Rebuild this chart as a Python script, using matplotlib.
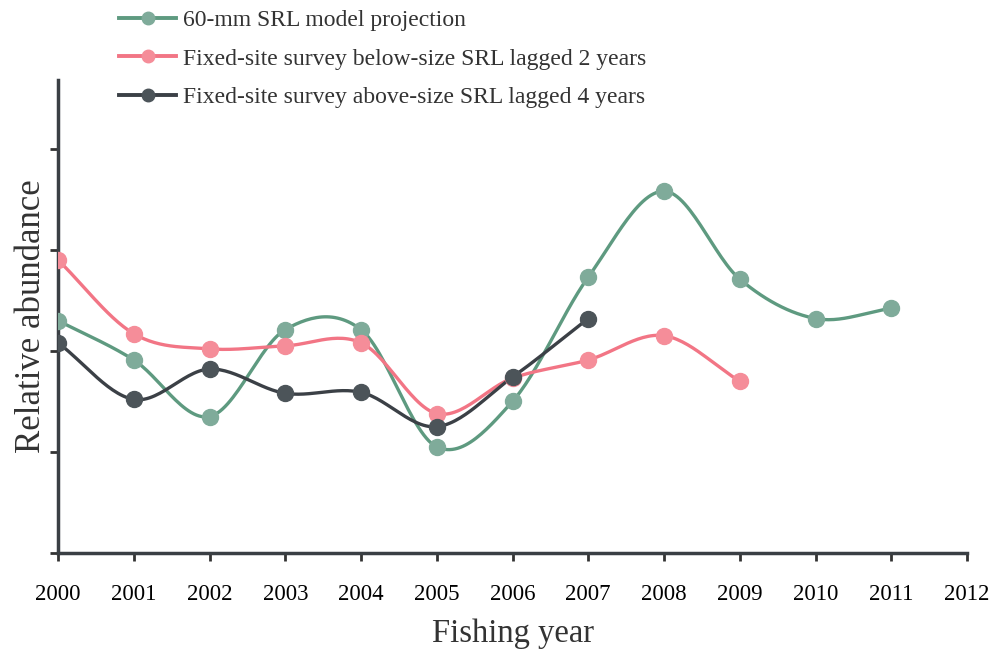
import matplotlib.pyplot as plt
import numpy as np
from matplotlib.lines import Line2D

years_model = [2000, 2001, 2002, 2003, 2004, 2005, 2006, 2007, 2008, 2009, 2010, 2011]
model_60mm = [2.30, 1.91, 1.35, 2.21, 2.21, 1.05, 1.50, 2.73, 3.58, 2.71, 2.32, 2.42]

years_below = [2000, 2001, 2002, 2003, 2004, 2005, 2006, 2007, 2008, 2009]
below_size = [2.90, 2.17, 2.02, 2.05, 2.08, 1.38, 1.73, 1.91, 2.15, 1.70]

years_above = [2000, 2001, 2002, 2003, 2004, 2005, 2006, 2007]
above_size = [2.08, 1.52, 1.82, 1.58, 1.59, 1.25, 1.74, 2.32]

labels = ["60-mm SRL model projection",
          "Fixed-site survey below-size SRL lagged 2 years",
          "Fixed-site survey above-size SRL lagged 4 years"]
xticks = list(range(2000, 2013))


def smooth(x, y, n=30):
    # Catmull-Rom spline, close to the spreadsheet "smoothed line" look
    x = np.asarray(x, float)
    y = np.asarray(y, float)
    px = np.concatenate([[2 * x[0] - x[1]], x, [2 * x[-1] - x[-2]]])
    py = np.concatenate([[2 * y[0] - y[1]], y, [2 * y[-1] - y[-2]]])
    xs, ys = [], []
    t = np.linspace(0, 1, n)
    for i in range(1, len(px) - 2):
        for p, out in ((px, xs), (py, ys)):
            p0, p1, p2, p3 = p[i - 1], p[i], p[i + 1], p[i + 2]
            seg = 0.5 * ((2 * p1) + (-p0 + p2) * t
                         + (2 * p0 - 5 * p1 + 4 * p2 - p3) * t ** 2
                         + (-p0 + 3 * p1 - 3 * p2 + p3) * t ** 3)
            out.extend(seg)
    return np.array(xs), np.array(ys)


plt.rcParams['font.family'] = ['Liberation Serif', 'DejaVu Serif']

fig = plt.figure(figsize=(9.92, 6.52), dpi=100)
ax = fig.add_axes([58 / 992, 99 / 652, (967 - 58) / 992, (553 - 80) / 652])

series = [
    (years_model, model_60mm, "#5e9a80", "#7fab9a"),
    (years_below, below_size, "#f27585", "#f58d99"),
    (years_above, above_size, "#3b4046", "#4c5459"),
]
handles = []
for (xv, yv, lc, mc), lab in zip(series, labels):
    sx, sy = smooth(xv, yv)
    ax.plot(sx, sy, color=lc, lw=2.4, solid_capstyle='round')
    ax.plot(xv, yv, 'o', color=mc, ms=11.5, mec=mc, zorder=3)
    handles.append(Line2D([0], [0], color=lc, lw=2.8, marker='o', ms=9,
                          mfc=mc, mec=mc))

ax.set_xlim(2000, 2012)
ax.set_ylim(0, 4.68)
ax.set_xticks(xticks)
ax.set_xticklabels([str(v) for v in xticks], fontsize=16.5)
ax.set_yticks([0, 1, 2, 3, 4])
ax.set_yticklabels([])
ax.tick_params(axis='both', direction='out', length=6, width=2, color='#333333')
ax.tick_params(axis='x', pad=16)
for s in ('top', 'right'):
    ax.spines[s].set_visible(False)
for s in ('left', 'bottom'):
    ax.spines[s].set_linewidth(2.5)
    ax.spines[s].set_color('#3a3f44')

ax.set_xlabel("Fishing year", fontsize=23.5, color='#333333', labelpad=10)
ax.set_ylabel("Relative abundance", fontsize=25, color='#333333', labelpad=-2)

fig.legend(handles, labels, loc='upper left', bbox_to_anchor=(98 / 992, 1.018),
           frameon=False, fontsize=17, labelspacing=0.72, handlelength=2.4,
           handletextpad=0.3, labelcolor='#333333')

fig.savefig("out.png", dpi=100)
